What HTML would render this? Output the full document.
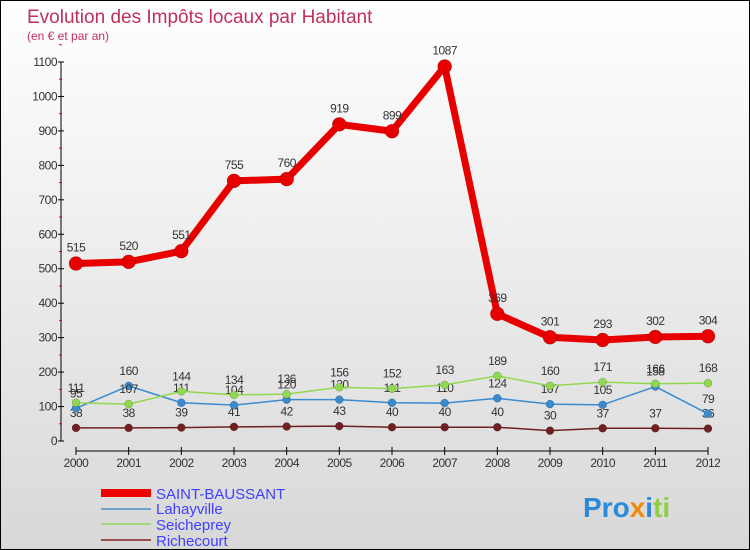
<!DOCTYPE html>
<html><head><meta charset="utf-8"><style>
body{margin:0}
#c{width:750px;height:550px;position:relative;box-sizing:border-box;border:1px solid #000;background:linear-gradient(#fff,#d8d8d8);font-family:"Liberation Sans",sans-serif;overflow:hidden}
</style></head><body>
<div id="c">
<svg id="s" width="750" height="550" style="position:absolute;left:0;top:0">
<text x="26" y="22" font-size="19" fill="#c0305a">Evolution des Impôts locaux par Habitant</text>
<text x="26" y="39" font-size="12" fill="#c0305a">(en € et par an)</text>
<g id="axes"></g><g id="series"></g>
<g>
<line x1="100" y1="492" x2="150" y2="492" stroke="#e00" stroke-width="8"/>
<text x="155" y="498" font-size="15" fill="#4040ff">SAINT-BAUSSANT</text>
<line x1="100" y1="508" x2="150" y2="508" stroke="#4a90c8" stroke-width="1.5"/>
<text x="155" y="513" font-size="15" fill="#4040ff">Lahayville</text>
<line x1="100" y1="523" x2="150" y2="523" stroke="#90d860" stroke-width="1.5"/>
<text x="155" y="529" font-size="15" fill="#4040ff">Seicheprey</text>
<line x1="100" y1="539" x2="150" y2="539" stroke="#802020" stroke-width="1.5"/>
<text x="155" y="545" font-size="15" fill="#4040ff">Richecourt</text>
</g>
<text x="582" y="516" font-size="28" font-weight="bold"><tspan fill="#2a8ad8">Pro</tspan><tspan fill="#f08a10">x</tspan><tspan fill="#2a8ad8">i</tspan><tspan fill="#90d040">ti</tspan></text>
</svg>
</div>
<script>
const years=[2000,2001,2002,2003,2004,2005,2006,2007,2008,2009,2010,2011,2012];
const saint=[515,520,551,755,760,919,899,1087,369,301,293,302,304];
const lahay=[95,160,111,104,120,120,111,110,124,107,105,158,79];
const seich=[111,107,144,134,136,156,152,163,189,160,171,166,168];
const riche=[38,38,39,41,42,43,40,40,40,30,37,37,36];
const yTicks=[0,100,200,300,400,500,600,700,800,900,1000,1100];
const NS='http://www.w3.org/2000/svg';
const xS=i=>75+i*(707-75)/12;
const yS=v=>440-v*(440-61)/1100;
function mk(t,a,p){const e=document.createElementNS(NS,t);for(const k in a)e.setAttribute(k,a[k]);p.appendChild(e);return e;}
const ax=document.getElementById('axes');
let l=mk('line',{x1:60,y1:yS(1100),x2:60,y2:yS(0),stroke:'#000'},ax);


l=mk('line',{x1:xS(0),y1:450,x2:xS(12),y2:450,stroke:'#000'},ax);


yTicks.forEach(v=>{mk('line',{x1:57,x2:63,y1:yS(v),y2:yS(v),stroke:'#000'},ax);
mk('line',{x1:58,x2:61,y1:yS(v+50),y2:yS(v+50),stroke:'#e00'},ax);
const t=mk('text',{x:56,y:yS(v)+4,'font-size':12,'text-anchor':'end',fill:'#333','letter-spacing':'-0.5'},ax);t.textContent=v;

});
years.forEach((y,i)=>{mk('line',{x1:xS(i),x2:xS(i),y1:446,y2:454,stroke:'#000'},ax);
const t=mk('text',{x:xS(i),y:466,'font-size':12,'text-anchor':'middle',fill:'#333','letter-spacing':'-0.5'},ax);t.textContent=y;

});
const sg=document.getElementById('series');
function series(d,name,col,w,r,lab){
const g=mk('g',{},sg);


const p=mk('polyline',{points:d.map((v,i)=>xS(i)+','+yS(v)).join(' '),fill:'none',stroke:col,'stroke-width':w,'stroke-linejoin':'round'},g);


d.forEach((v,i)=>{const c=mk('circle',{cx:xS(i),cy:yS(v),r:r,fill:col,stroke:'rgba(0,0,0,0.3)','stroke-width':0.5},g);


const t=mk('text',{x:xS(i),y:yS(v)-lab,'font-size':12,'text-anchor':'middle',fill:'#333','letter-spacing':'-0.5'},g);t.textContent=v;

});}
series(riche,'richecourt','#702020',1.5,4,11);
series(lahay,'lahayville','#3a8ad0',1.5,4,11);
series(seich,'seicheprey','#90d850',1.5,4,11);
series(saint,'saint-baussant','#e80000',7,7,12);
</script>
</body></html>
